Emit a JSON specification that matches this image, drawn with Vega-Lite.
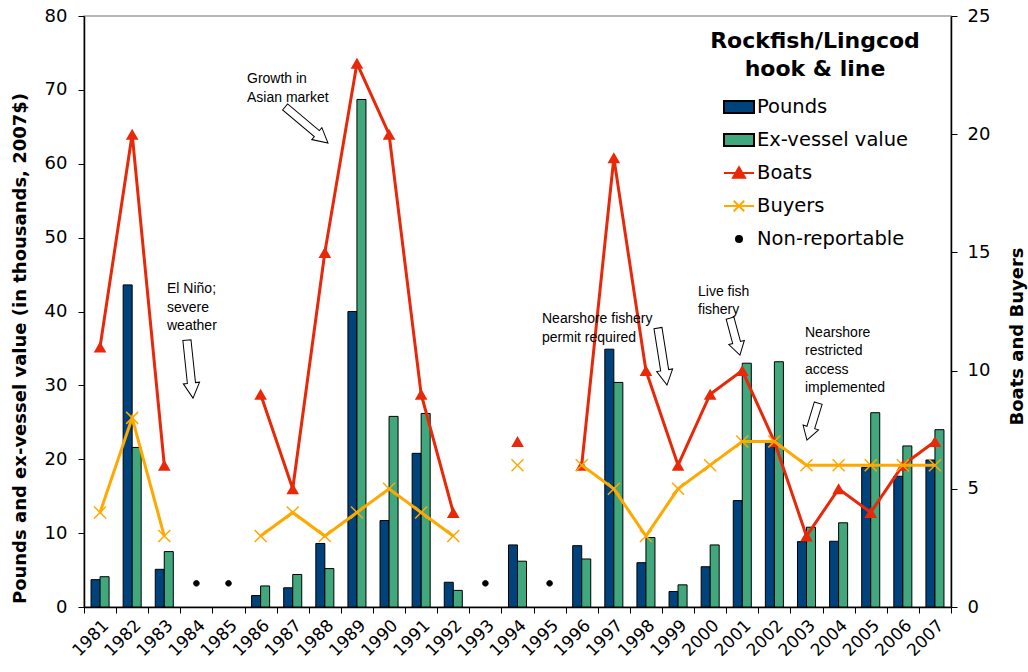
{
  "$schema": "https://vega.github.io/schema/vega-lite/v6.json",
  "width": 867,
  "height": 591,
  "autosize": "none",
  "padding": {"left": 84, "top": 16, "right": 77, "bottom": 65},
  "background": "white",
  "config": {
    "view": {"stroke": "#a0a0a0", "strokeWidth": 1.5},
    "font": "DejaVu Sans",
    "axis": {"labelFont": "DejaVu Sans", "titleFont": "DejaVu Sans", "labelColor": "black", "titleColor": "black", "domainColor": "black", "tickColor": "black", "grid": false}
  },
  "datasets": {
    "bars": [
      {"year": 1981, "series": "Pounds", "value": 3.7}, {"year": 1981, "series": "Ex-vessel value", "value": 4.1},
      {"year": 1982, "series": "Pounds", "value": 43.6}, {"year": 1982, "series": "Ex-vessel value", "value": 21.6},
      {"year": 1983, "series": "Pounds", "value": 5.1}, {"year": 1983, "series": "Ex-vessel value", "value": 7.5},
      {"year": 1986, "series": "Pounds", "value": 1.55}, {"year": 1986, "series": "Ex-vessel value", "value": 2.85},
      {"year": 1987, "series": "Pounds", "value": 2.6}, {"year": 1987, "series": "Ex-vessel value", "value": 4.4},
      {"year": 1988, "series": "Pounds", "value": 8.6}, {"year": 1988, "series": "Ex-vessel value", "value": 5.2},
      {"year": 1989, "series": "Pounds", "value": 40.0}, {"year": 1989, "series": "Ex-vessel value", "value": 68.7},
      {"year": 1990, "series": "Pounds", "value": 11.7}, {"year": 1990, "series": "Ex-vessel value", "value": 25.8},
      {"year": 1991, "series": "Pounds", "value": 20.8}, {"year": 1991, "series": "Ex-vessel value", "value": 26.2},
      {"year": 1992, "series": "Pounds", "value": 3.35}, {"year": 1992, "series": "Ex-vessel value", "value": 2.25},
      {"year": 1994, "series": "Pounds", "value": 8.4}, {"year": 1994, "series": "Ex-vessel value", "value": 6.2},
      {"year": 1996, "series": "Pounds", "value": 8.3}, {"year": 1996, "series": "Ex-vessel value", "value": 6.5},
      {"year": 1997, "series": "Pounds", "value": 34.9}, {"year": 1997, "series": "Ex-vessel value", "value": 30.4},
      {"year": 1998, "series": "Pounds", "value": 6.0}, {"year": 1998, "series": "Ex-vessel value", "value": 9.4},
      {"year": 1999, "series": "Pounds", "value": 2.1}, {"year": 1999, "series": "Ex-vessel value", "value": 3.0},
      {"year": 2000, "series": "Pounds", "value": 5.45}, {"year": 2000, "series": "Ex-vessel value", "value": 8.4},
      {"year": 2001, "series": "Pounds", "value": 14.4}, {"year": 2001, "series": "Ex-vessel value", "value": 33.0},
      {"year": 2002, "series": "Pounds", "value": 22.3}, {"year": 2002, "series": "Ex-vessel value", "value": 33.2},
      {"year": 2003, "series": "Pounds", "value": 8.85}, {"year": 2003, "series": "Ex-vessel value", "value": 10.8},
      {"year": 2004, "series": "Pounds", "value": 8.9}, {"year": 2004, "series": "Ex-vessel value", "value": 11.4},
      {"year": 2005, "series": "Pounds", "value": 18.9}, {"year": 2005, "series": "Ex-vessel value", "value": 26.3},
      {"year": 2006, "series": "Pounds", "value": 17.7}, {"year": 2006, "series": "Ex-vessel value", "value": 21.8},
      {"year": 2007, "series": "Pounds", "value": 19.9}, {"year": 2007, "series": "Ex-vessel value", "value": 24.0}
    ],
    "counts": [
      {"year": 1981, "series": "Boats", "count": 11}, {"year": 1981, "series": "Buyers", "count": 4},
      {"year": 1982, "series": "Boats", "count": 20}, {"year": 1982, "series": "Buyers", "count": 8},
      {"year": 1983, "series": "Boats", "count": 6}, {"year": 1983, "series": "Buyers", "count": 3},
      {"year": 1984, "series": "Boats", "count": null}, {"year": 1984, "series": "Buyers", "count": null},
      {"year": 1985, "series": "Boats", "count": null}, {"year": 1985, "series": "Buyers", "count": null},
      {"year": 1986, "series": "Boats", "count": 9}, {"year": 1986, "series": "Buyers", "count": 3},
      {"year": 1987, "series": "Boats", "count": 5}, {"year": 1987, "series": "Buyers", "count": 4},
      {"year": 1988, "series": "Boats", "count": 15}, {"year": 1988, "series": "Buyers", "count": 3},
      {"year": 1989, "series": "Boats", "count": 23}, {"year": 1989, "series": "Buyers", "count": 4},
      {"year": 1990, "series": "Boats", "count": 20}, {"year": 1990, "series": "Buyers", "count": 5},
      {"year": 1991, "series": "Boats", "count": 9}, {"year": 1991, "series": "Buyers", "count": 4},
      {"year": 1992, "series": "Boats", "count": 4}, {"year": 1992, "series": "Buyers", "count": 3},
      {"year": 1993, "series": "Boats", "count": null}, {"year": 1993, "series": "Buyers", "count": null},
      {"year": 1994, "series": "Boats", "count": 7}, {"year": 1994, "series": "Buyers", "count": 6},
      {"year": 1995, "series": "Boats", "count": null}, {"year": 1995, "series": "Buyers", "count": null},
      {"year": 1996, "series": "Boats", "count": 6}, {"year": 1996, "series": "Buyers", "count": 6},
      {"year": 1997, "series": "Boats", "count": 19}, {"year": 1997, "series": "Buyers", "count": 5},
      {"year": 1998, "series": "Boats", "count": 10}, {"year": 1998, "series": "Buyers", "count": 3},
      {"year": 1999, "series": "Boats", "count": 6}, {"year": 1999, "series": "Buyers", "count": 5},
      {"year": 2000, "series": "Boats", "count": 9}, {"year": 2000, "series": "Buyers", "count": 6},
      {"year": 2001, "series": "Boats", "count": 10}, {"year": 2001, "series": "Buyers", "count": 7},
      {"year": 2002, "series": "Boats", "count": 7}, {"year": 2002, "series": "Buyers", "count": 7},
      {"year": 2003, "series": "Boats", "count": 3}, {"year": 2003, "series": "Buyers", "count": 6},
      {"year": 2004, "series": "Boats", "count": 5}, {"year": 2004, "series": "Buyers", "count": 6},
      {"year": 2005, "series": "Boats", "count": 4}, {"year": 2005, "series": "Buyers", "count": 6},
      {"year": 2006, "series": "Boats", "count": 6}, {"year": 2006, "series": "Buyers", "count": 6},
      {"year": 2007, "series": "Boats", "count": 7}, {"year": 2007, "series": "Buyers", "count": 6}
    ],
    "nr": [
      {"year": 1984, "series": "Non-reportable", "v": 3.2},
      {"year": 1985, "series": "Non-reportable", "v": 3.2},
      {"year": 1993, "series": "Non-reportable", "v": 3.2},
      {"year": 1995, "series": "Non-reportable", "v": 3.2}
    ],
    "notes": [
      {"id": "nino", "label": "El Niño;\nsevere\nweather", "tx": 1983.085, "ty": 42.5, "ax": 1983.80, "ay": 32.2},
      {"id": "asia", "label": "Growth in\nAsian market", "tx": 1985.576, "ty": 70.9, "ax": 1987.43, "ay": 65.25},
      {"id": "permit", "label": "Nearshore fishery\npermit required", "tx": 1994.763, "ty": 38.44, "ax": 1998.515, "ay": 33.9},
      {"id": "live", "label": "Live fish\nfishery", "tx": 1999.621, "ty": 42.1, "ax": 2000.773, "ay": 36.6},
      {"id": "restricted", "label": "Nearshore\nrestricted\naccess\nimplemented", "tx": 2002.953, "ty": 36.55, "ax": 2003.19, "ay": 25.1}
    ]
  },
  "layer": [
    {
      "data": {"name": "bars"},
      "mark": {"type": "bar", "stroke": "black", "strokeWidth": 1},
      "encoding": {
        "x": {
          "field": "year", "type": "ordinal",
          "scale": {"domain": [1981,1982,1983,1984,1985,1986,1987,1988,1989,1990,1991,1992,1993,1994,1995,1996,1997,1998,1999,2000,2001,2002,2003,2004,2005,2006,2007], "paddingInner": 0, "paddingOuter": 0},
          "axis": {"title": null, "labelAngle": -45, "tickBand": "extent", "labelFontSize": 17, "tickSize": 6, "domainWidth": 1.5, "labelOverlap": false, "labelPadding": 4}
        },
        "xOffset": {"field": "series", "type": "nominal", "scale": {"domain": ["Pounds", "Ex-vessel value"], "paddingInner": 0, "paddingOuter": 0.78}},
        "y": {
          "field": "value", "type": "quantitative",
          "scale": {"domain": [0, 80], "nice": false},
          "axis": {"values": [0,10,20,30,40,50,60,70,80], "title": "Pounds and ex-vessel value (in thousands, 2007$)", "titleFontSize": 18, "titleFontWeight": "bold", "titleAngle": -90, "titleX": -64, "titleY": 332, "titleAlign": "center", "titleBaseline": "middle", "labelFontSize": 18, "tickSize": 6, "domainWidth": 1.5, "labelPadding": 11}
        },
        "color": {
          "field": "series", "type": "nominal",
          "scale": {"domain": ["Pounds", "Ex-vessel value", "Boats", "Buyers", "Non-reportable"], "range": ["#00437c", "#40a87c", "#e82808", "#ffa800", "black"]},
          "legend": {
            "title": ["Rockfish/Lingcod", "hook & line"],
            "orient": "none", "legendX": 626, "legendY": 15, "padding": 0,
            "titleFont": "DejaVu Sans", "titleFontSize": 22, "titleFontWeight": "bold", "titleColor": "black", "titleLimit": 500,
            "titleAnchor": "middle", "titleAlign": "center", "titleLineHeight": 28, "titlePadding": 10,
            "labelFont": "DejaVu Sans", "labelFontSize": 19.5, "labelColor": "black", "labelOffset": 2, "labelLimit": 400,
            "symbolSize": 900, "symbolOffset": 1, "rowPadding": 7, "symbolStrokeWidth": 2, "symbolOpacity": 1
          }
        }
      }
    },
    {
      "data": {"name": "nr"},
      "mark": {"type": "point", "filled": true, "size": 900, "opacity": 1, "strokeWidth": 0.5},
      "encoding": {
        "x": {"field": "year", "type": "ordinal", "scale": {"domain": [1981,1982,1983,1984,1985,1986,1987,1988,1989,1990,1991,1992,1993,1994,1995,1996,1997,1998,1999,2000,2001,2002,2003,2004,2005,2006,2007]}, "axis": null},
        "y": {"field": "v", "type": "quantitative", "scale": {"domain": [0, 80], "nice": false}, "axis": null},
        "color": {"field": "series", "type": "nominal"},
        "shape": {"field": "series", "type": "nominal", "scale": {"domain": ["Pounds", "Ex-vessel value", "Boats", "Buyers", "Non-reportable"], "range": ["M-1,-0.4H1V0.4H-1Z", "M-1,-0.4H1V0.4H-1Z", "M-1,0H1M-0.4,0.32L0,-0.38L0.4,0.32Z", "M-1,0H1M-0.35,-0.35L0.35,0.35M-0.35,0.35L0.35,-0.35", "M-0.2,0A0.2,0.2,0,1,0,0.2,0A0.2,0.2,0,1,0,-0.2,0Z"]}},
        "stroke": {"field": "series", "type": "nominal", "scale": {"domain": ["Pounds", "Ex-vessel value", "Boats", "Buyers", "Non-reportable"], "range": ["black", "black", "#e82808", "#ffa800", "black"]}}
      }
    },
    {
      "data": {"name": "counts"},
      "transform": [{"filter": "datum.series === 'Boats'"}],
      "mark": {"type": "line", "strokeWidth": 3, "color": "#e82808", "invalid": "break-paths-show-domains"},
      "encoding": {
        "x": {"field": "year", "type": "ordinal", "scale": {"domain": [1981,1982,1983,1984,1985,1986,1987,1988,1989,1990,1991,1992,1993,1994,1995,1996,1997,1998,1999,2000,2001,2002,2003,2004,2005,2006,2007]}, "axis": null},
        "y": {
          "field": "count", "type": "quantitative", "scale": {"domain": [0, 25], "nice": false},
          "axis": {"orient": "right", "values": [0,5,10,15,20,25], "title": "Boats and Buyers", "titleFontSize": 18, "titleFontWeight": "bold", "titleAngle": -90, "titleX": 66, "titleY": 320, "titleAlign": "center", "titleBaseline": "middle", "labelFontSize": 18, "tickSize": 6, "domainWidth": 1.5, "labelPadding": 10}
        }
      }
    },
    {
      "data": {"name": "counts"},
      "transform": [{"filter": "datum.series === 'Boats' && datum.count != null"}],
      "mark": {"type": "point", "shape": "triangle-up", "filled": true, "size": 160, "opacity": 1, "color": "#e82808"},
      "encoding": {
        "x": {"field": "year", "type": "ordinal", "scale": {"domain": [1981,1982,1983,1984,1985,1986,1987,1988,1989,1990,1991,1992,1993,1994,1995,1996,1997,1998,1999,2000,2001,2002,2003,2004,2005,2006,2007]}, "axis": null},
        "y": {"field": "count", "type": "quantitative", "scale": {"domain": [0, 25], "nice": false}, "axis": null}
      }
    },
    {
      "data": {"name": "counts"},
      "transform": [{"filter": "datum.series === 'Buyers'"}],
      "mark": {"type": "line", "strokeWidth": 3, "color": "#ffa800", "invalid": "break-paths-show-domains"},
      "encoding": {
        "x": {"field": "year", "type": "ordinal", "scale": {"domain": [1981,1982,1983,1984,1985,1986,1987,1988,1989,1990,1991,1992,1993,1994,1995,1996,1997,1998,1999,2000,2001,2002,2003,2004,2005,2006,2007]}, "axis": null},
        "y": {"field": "count", "type": "quantitative", "scale": {"domain": [0, 25], "nice": false}, "axis": null}
      }
    },
    {
      "data": {"name": "counts"},
      "transform": [{"filter": "datum.series === 'Buyers' && datum.count != null"}],
      "mark": {"type": "point", "shape": "M-1,-1L1,1M-1,1L1,-1", "filled": false, "size": 144, "strokeWidth": 1.5, "opacity": 1, "color": "#ffa800"},
      "encoding": {
        "x": {"field": "year", "type": "ordinal", "scale": {"domain": [1981,1982,1983,1984,1985,1986,1987,1988,1989,1990,1991,1992,1993,1994,1995,1996,1997,1998,1999,2000,2001,2002,2003,2004,2005,2006,2007]}, "axis": null},
        "y": {"field": "count", "type": "quantitative", "scale": {"domain": [0, 25], "nice": false}, "axis": null}
      }
    },
    {
      "data": {"name": "notes"},
      "mark": {"type": "text", "align": "left", "baseline": "alphabetic", "font": "Liberation Sans", "fontSize": 14, "lineBreak": "\n", "lineHeight": 18.5, "color": "black"},
      "encoding": {
        "x": {"field": "tx", "type": "quantitative", "scale": {"domain": [1980.5, 2007.5], "nice": false, "zero": false}, "axis": null},
        "y": {"field": "ty", "type": "quantitative", "scale": {"domain": [0, 80], "nice": false}, "axis": null},
        "text": {"field": "label"}
      }
    },
    {
      "data": {"name": "notes"},
      "transform": [{"filter": "datum.id === 'nino'"}],
      "mark": {"type": "point", "shape": "M-0.14,-1H0.14V0.48H0.28L0,1L-0.28,0.48H-0.14Z", "size": 3400, "angle": -6, "filled": true, "fill": "white", "stroke": "black", "strokeWidth": 1, "opacity": 1},
      "encoding": {
        "x": {"field": "ax", "type": "quantitative", "scale": {"domain": [1980.5, 2007.5], "nice": false, "zero": false}, "axis": null},
        "y": {"field": "ay", "type": "quantitative", "scale": {"domain": [0, 80], "nice": false}, "axis": null}
      }
    },
    {
      "data": {"name": "notes"},
      "transform": [{"filter": "datum.id === 'asia'"}],
      "mark": {"type": "point", "shape": "M-0.14,-1H0.14V0.48H0.28L0,1L-0.28,0.48H-0.14Z", "size": 3136, "angle": -50, "filled": true, "fill": "white", "stroke": "black", "strokeWidth": 1, "opacity": 1},
      "encoding": {
        "x": {"field": "ax", "type": "quantitative", "scale": {"domain": [1980.5, 2007.5], "nice": false, "zero": false}, "axis": null},
        "y": {"field": "ay", "type": "quantitative", "scale": {"domain": [0, 80], "nice": false}, "axis": null}
      }
    },
    {
      "data": {"name": "notes"},
      "transform": [{"filter": "datum.id === 'permit'"}],
      "mark": {"type": "point", "shape": "M-0.14,-1H0.14V0.48H0.28L0,1L-0.28,0.48H-0.14Z", "size": 3330, "angle": -9, "filled": true, "fill": "white", "stroke": "black", "strokeWidth": 1, "opacity": 1},
      "encoding": {
        "x": {"field": "ax", "type": "quantitative", "scale": {"domain": [1980.5, 2007.5], "nice": false, "zero": false}, "axis": null},
        "y": {"field": "ay", "type": "quantitative", "scale": {"domain": [0, 80], "nice": false}, "axis": null}
      }
    },
    {
      "data": {"name": "notes"},
      "transform": [{"filter": "datum.id === 'live'"}],
      "mark": {"type": "point", "shape": "M-0.21,-1H0.21V0.32H0.42L0,1L-0.42,0.32H-0.21Z", "size": 1467, "angle": -15, "filled": true, "fill": "white", "stroke": "black", "strokeWidth": 1, "opacity": 1},
      "encoding": {
        "x": {"field": "ax", "type": "quantitative", "scale": {"domain": [1980.5, 2007.5], "nice": false, "zero": false}, "axis": null},
        "y": {"field": "ay", "type": "quantitative", "scale": {"domain": [0, 80], "nice": false}, "axis": null}
      }
    },
    {
      "data": {"name": "notes"},
      "transform": [{"filter": "datum.id === 'restricted'"}],
      "mark": {"type": "point", "shape": "M-0.21,-1H0.21V0.32H0.42L0,1L-0.42,0.32H-0.21Z", "size": 1490, "angle": 17, "filled": true, "fill": "white", "stroke": "black", "strokeWidth": 1, "opacity": 1},
      "encoding": {
        "x": {"field": "ax", "type": "quantitative", "scale": {"domain": [1980.5, 2007.5], "nice": false, "zero": false}, "axis": null},
        "y": {"field": "ay", "type": "quantitative", "scale": {"domain": [0, 80], "nice": false}, "axis": null}
      }
    }
  ],
  "resolve": {"scale": {"x": "independent", "y": "independent"}}
}
